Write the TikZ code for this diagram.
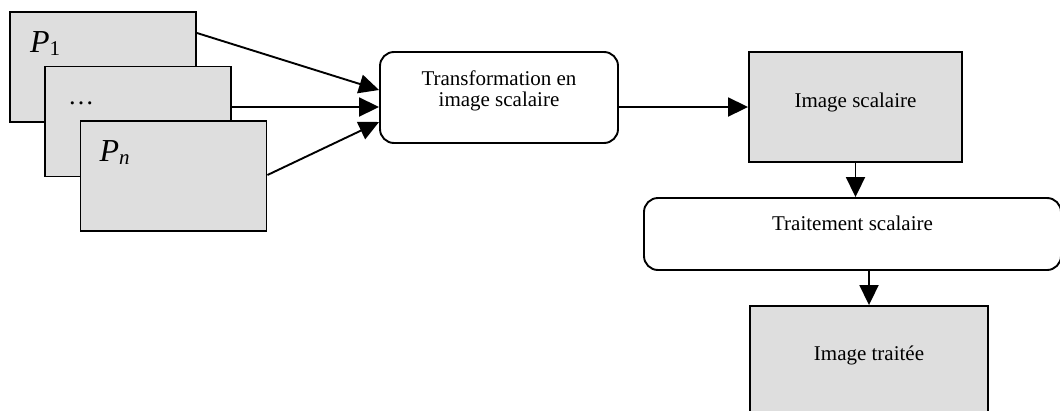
\documentclass[tikz,border=0pt]{standalone}
\usepackage{fontspec}
\setmainfont{Liberation Serif}
\usetikzlibrary{arrows.meta, positioning}

\newcommand{\boxsize}{\fontsize{21}{21}\selectfont}
\newcommand{\planesize}{\fontsize{32}{32}\selectfont}
\newcommand{\subsize}{\fontsize{21}{21}\selectfont}

\begin{document}
\begin{tikzpicture}[x=1pt, y=-1pt, >={Triangle[length=20pt, width=19pt]}, line width=1.9pt]
	\tikzstyle{plane} = [draw, fill=black!13, rectangle, minimum width=186pt, minimum height=110pt, inner sep=0pt]
	\tikzstyle{plabel} = [anchor=base west, inner sep=0pt, font=\planesize]
	\tikzstyle{image} = [draw, fill=black!13, rectangle, font=\boxsize, text height=15pt, text depth=15pt]
	\tikzstyle{process} = [draw, fill=white, rectangle, rounded corners=14pt, font=\boxsize, align=center]

	\useasboundingbox (0,0) rectangle (1060,410);
	\clip (0,0) rectangle (1060,410);

	% stacked input planes
	\path
		node[plane, label={[plabel, xshift=20pt, yshift=-41pt]north west:{\textit{P}\raisebox{-3.5pt}{\subsize 1}}}] (p1) at (103,67) {}
		node[plane, label={[plabel, xshift=23pt, yshift=-39pt, font=\fontsize{26}{26}\selectfont]north west:{\ldots}}] (pdots) at (138,121.5) {}
		node[plane, label={[plabel, xshift=19pt, yshift=-41pt]north west:{\textit{P}\raisebox{-3pt}{\subsize\textit{n}}}}] (pn) at (173.5,176) {}
	;

	% processing chain
	\path
		node[process, minimum width=238pt, minimum height=91pt, text height=36pt, text depth=19pt] (trans) at (499,97.5) {Transformation en\\image scalaire}
		node[image, minimum width=213pt, minimum height=110pt] (scal) at (855.5,107) {Image scalaire}
		node[process, minimum width=417pt, minimum height=72pt, text height=15pt, text depth=23pt] (trait) at (852.5,234) {Traitement scalaire}
		node[image, minimum width=238pt, minimum height=108pt] (res) at (869,360) {Image trait\'ee}
	;

	\path[->]
		([yshift=34pt]p1.east) edge ([yshift=7.5pt]trans.west)
		([yshift=14.5pt]pdots.east) edge ([yshift=-9.5pt]trans.west)
		([yshift=1pt]pn.east) edge ([yshift=-24.5pt]trans.west)
		([yshift=-9.5pt]trans.east) edge (scal.west)
		(scal.south) edge (scal.south |- trait.north)
		(res.north |- trait.south) edge (res.north)
	;
\end{tikzpicture}
\end{document}
